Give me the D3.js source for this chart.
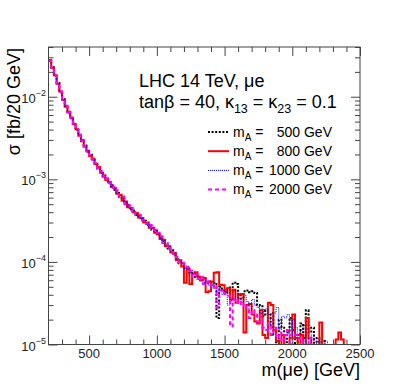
<!DOCTYPE html>
<html lang="en">
<head>
<meta charset="UTF-8">
<title>sigma vs m(mu e)</title>
<script src="https://d3js.org/d3.v7.min.js"></script>
<style>
  body { margin: 0; background: #fff; }
  svg { font-family: "Liberation Sans", Arial, Helvetica, sans-serif; }
  .axis .tick line { stroke: #444; }
</style>
</head>
<body>
<div id="chart"></div>
<script>
const width = 409, height = 392;
const frame = {left: 48.5, top: 47, right: 360, bottom: 344.5};

// histogram binning (GeV)
const binStart = 200, binWidth = 20;
// values below are in units of 1e-5 fb per bin, 0 = empty bin
const unit = 1e-5;

const massPoints = ["500", "800", "1000", "2000"];

const sigma500 = [
  2720,2270,1780,1470,1130,930,760,660,548,476,
  395,347,290,256,215,198,171,158,135,126,
  108,102,89,85,74,71,61,58,51,49,
  43,42,37,36.5,32,31.5,28,27.5,24.5,24,
  21,20,17.5,16.5,14.5,13.8,12,11.3,9.6,9.6,
  8.4,8.5,7.3,7.4,6.6,6.8,6.0,6.3,5.5,5.8,
  5.2,5.6,2.1,5.0,4.5,4.2,4.9,4.4,5.6,5.4,
  4.1,3.6,4.4,4.5,4.3,4.4,4.2,3.0,2.9,2.2,
  2.6,1.7,2.4,1.3,0,2.0,1.6,0,1.4,2.1,
  1.5,0,1.3,1.8,1.2,2.6,1.4,1.6,0,1.2,
  0,1.1,0,0,0,0,0,0,0,0,0,0,0,0,0
];
const sigma800 = [
  2780,2230,1820,1440,1160,915,775,645,560,465,
  405,338,300,248,222,192,177,152,141,120,
  112,98,93,81,78,67,65,55,54,46,
  45,40,39,34.5,34,30,30,26,26,22.5,
  22,19,18.5,15.5,15.5,13,12.8,10.5,10.5,8.8,
  5.6,8.2,5.4,7.2,7.5,6.6,6.0,6.4,4.3,4.4,
  5.8,7.4,7.5,5.3,5.2,4.4,4.8,3.5,4.6,3.2,
  4.0,4.1,1.4,3.0,3.1,2.3,1.9,1.8,2.6,1.3,
  1.2,3.2,3.0,1.5,1.1,0,1.3,0,0,1.2,
  2.3,1.2,0,1.3,0,2.1,1.2,0,0,0,
  1.85,0,0,0,0,0,1.15,1.4,1.15,0,0,0,0,0,0
];
const sigma1000 = [
  2760,2240,1810,1450,1150,925,768,652,553,472,
  402,340,296,250,220,194,175,154,139,122,
  111,99,92,82,77,68,64,56,53,47,
  44.5,40.5,38.5,35,33.5,30.5,29.5,26.5,25.5,23,
  21.8,19.2,18.2,15.8,15.2,13.2,12.6,10.8,10.2,9.5,
  8.3,8.8,7.4,7.0,7.2,6.4,6.2,5.6,5.9,5.2,
  5.5,5.0,4.3,4.7,4.0,4.6,3.0,3.4,3.6,4.5,
  3.6,3.2,3.9,3.3,2.6,3.5,3.0,2.8,2.4,2.5,
  2.7,2.3,1.6,2.4,2.8,1.5,2.2,2.1,2.3,1.3,
  2.0,1.6,1.2,1.5,1.7,1.2,0,1.3,0,1.1,
  0,0,1.1,0,0,0,0,0,0,0,0,0,0,0,0
];
const sigma2000 = [
  2730,2250,1800,1450,1150,920,772,648,556,468,
  398,343,293,253,217,197,173,157,136,124,
  109,101,90,84,75,73,62,62,50,49,
  45,41.5,37,37,32,32,29,28,26,24.5,
  22.5,20.5,17,17,14.6,14,12.5,11.5,9.8,9.8,
  8.8,8.6,7.8,6.6,7.0,6.2,6.6,5.4,5.8,5.6,
  4.8,5.3,2.8,4.5,4.2,4.1,3.9,1.65,3.5,3.2,
  3.4,2.9,3.1,2.8,2.1,2.6,2.3,1.9,2.2,1.6,
  1.5,1.8,1.3,1.6,1.2,1.4,0,1.3,1.5,0,
  1.2,1.3,1.2,0,1.1,0,1.2,0,0,0,
  0,0,0,0,0,0,0,0,0,0,0,0,0,0,0
];

const xMajor = [500, 1000, 1500, 2000, 2500];
const yMajor = [1e-5, 1e-4, 1e-3, 1e-2];
const yLabels = ["−5", "−4", "−3", "−2"];

const series = [
  {mass: massPoints[0], vals: sigma500,  color: "#000000", width: 2,   dash: "2,1.6"},
  {mass: massPoints[1], vals: sigma800,  color: "#ff0000", width: 2,   dash: null},
  {mass: massPoints[2], vals: sigma1000, color: "#0000ff", width: 1,   dash: "1,1"},
  {mass: massPoints[3], vals: sigma2000, color: "#ff00ff", width: 2,   dash: "4,3"}
];

const svg = d3.select("#chart").append("svg")
  .attr("width", width)
  .attr("height", height);

const x = d3.scaleLinear().domain([200, 2500]).range([frame.left, frame.right]);
const y = d3.scaleLog().domain([1e-5, 0.04]).range([frame.bottom, frame.top]);

svg.append("clipPath").attr("id", "frameClip")
  .append("rect")
  .attr("x", frame.left).attr("y", frame.top)
  .attr("width", frame.right - frame.left)
  .attr("height", frame.bottom - frame.top);

// histograms as step lines
const floorVal = 3e-6;
const line = d3.line()
  .x(d => x(d[0]))
  .y(d => y(d[1] > 0 ? d[1] * unit : floorVal))
  .curve(d3.curveStepAfter);

const plot = svg.append("g").attr("clip-path", "url(#frameClip)");
series.forEach(s => {
  const pts = s.vals.map((v, i) => [binStart + i * binWidth, v]);
  pts.push([binStart + s.vals.length * binWidth, s.vals[s.vals.length - 1]]);
  plot.append("path")
    .attr("d", line(pts))
    .attr("fill", "none")
    .attr("stroke", s.color)
    .attr("stroke-width", s.width)
    .attr("stroke-dasharray", s.dash);
});

// axes: ticks inward on all four sides
const xMinor = d3.range(300, 2500, 100).filter(v => v % 500 !== 0);
const yMinor = [];
[1e-5, 1e-4, 1e-3, 1e-2].forEach(p => {
  for (let k = 2; k <= 9; k++) if (k * p <= 0.04) yMinor.push(k * p);
});

function addAxis(axisFn, scale, values, size, transform) {
  svg.append("g")
    .attr("class", "axis")
    .attr("transform", transform)
    .call(axisFn(scale).tickValues(values).tickSize(-size).tickFormat(""))
    .call(g => g.select(".domain").remove());
}
addAxis(d3.axisBottom, x, xMajor, 9, `translate(0,${frame.bottom})`);
addAxis(d3.axisBottom, x, xMinor, 5, `translate(0,${frame.bottom})`);
addAxis(d3.axisTop, x, xMajor, 9, `translate(0,${frame.top})`);
addAxis(d3.axisTop, x, xMinor, 5, `translate(0,${frame.top})`);
addAxis(d3.axisLeft, y, yMajor, 9, `translate(${frame.left},0)`);
addAxis(d3.axisLeft, y, yMinor, 5, `translate(${frame.left},0)`);
addAxis(d3.axisRight, y, yMajor, 9, `translate(${frame.right},0)`);
addAxis(d3.axisRight, y, yMinor, 5, `translate(${frame.right},0)`);

svg.append("rect")
  .attr("x", frame.left).attr("y", frame.top)
  .attr("width", frame.right - frame.left)
  .attr("height", frame.bottom - frame.top)
  .attr("fill", "none")
  .attr("stroke", "#444")
  .attr("stroke-width", 1);

// tick labels
svg.append("g").selectAll("text")
  .data(xMajor)
  .join("text")
  .attr("x", d => x(d))
  .attr("y", 357.5)
  .attr("text-anchor", "middle")
  .attr("font-size", 13)
  .attr("fill", "#222")
  .text(d => d);

yMajor.forEach((v, i) => {
  const t = svg.append("text")
    .attr("x", 46)
    .attr("y", y(v) + 6)
    .attr("text-anchor", "end")
    .attr("font-size", 13)
    .attr("fill", "#222");
  t.append("tspan").text("10");
  t.append("tspan").attr("dy", -7).attr("font-size", 9).text(yLabels[i]);
});

// axis titles
svg.append("text")
  .attr("transform", `translate(20,${frame.top + 1}) rotate(-90)`)
  .attr("text-anchor", "end")
  .attr("font-size", 18)
  .text("σ [fb/20 GeV]");

svg.append("text")
  .attr("x", frame.right)
  .attr("y", 375.5)
  .attr("text-anchor", "end")
  .attr("font-size", 18)
  .text("m(μe) [GeV]");

// header text
svg.append("text")
  .attr("x", 139).attr("y", 87)
  .attr("font-size", 18)
  .text("LHC 14 TeV, μe");

const l2 = svg.append("text")
  .attr("x", 139).attr("y", 108)
  .attr("font-size", 18);
l2.append("tspan").text("tanβ = 40, κ");
l2.append("tspan").attr("font-size", 12.5).attr("dy", 5).text("13");
l2.append("tspan").attr("dy", -5).text(" = κ");
l2.append("tspan").attr("font-size", 12.5).attr("dy", 5).text("23");
l2.append("tspan").attr("dy", -5).text(" = 0.1");

// legend
const legend = svg.append("g");
series.forEach((s, i) => {
  const yy = 132 + i * 19.2;
  legend.append("line")
    .attr("x1", 208).attr("x2", 229)
    .attr("y1", yy).attr("y2", yy)
    .attr("stroke", s.color)
    .attr("stroke-width", s.width)
    .attr("stroke-dasharray", s.dash);
  const t = legend.append("text")
    .attr("x", 233).attr("y", yy + 4.5)
    .attr("font-size", 14);
  t.append("tspan").text("m");
  t.append("tspan").attr("font-size", 10).attr("dy", 4).text("A");
  t.append("tspan").attr("dy", -4).text(" =");
  legend.append("text")
    .attr("x", 332).attr("y", yy + 4.5)
    .attr("text-anchor", "end")
    .attr("font-size", 14)
    .text(s.mass + " GeV");
});
</script>
</body>
</html>
